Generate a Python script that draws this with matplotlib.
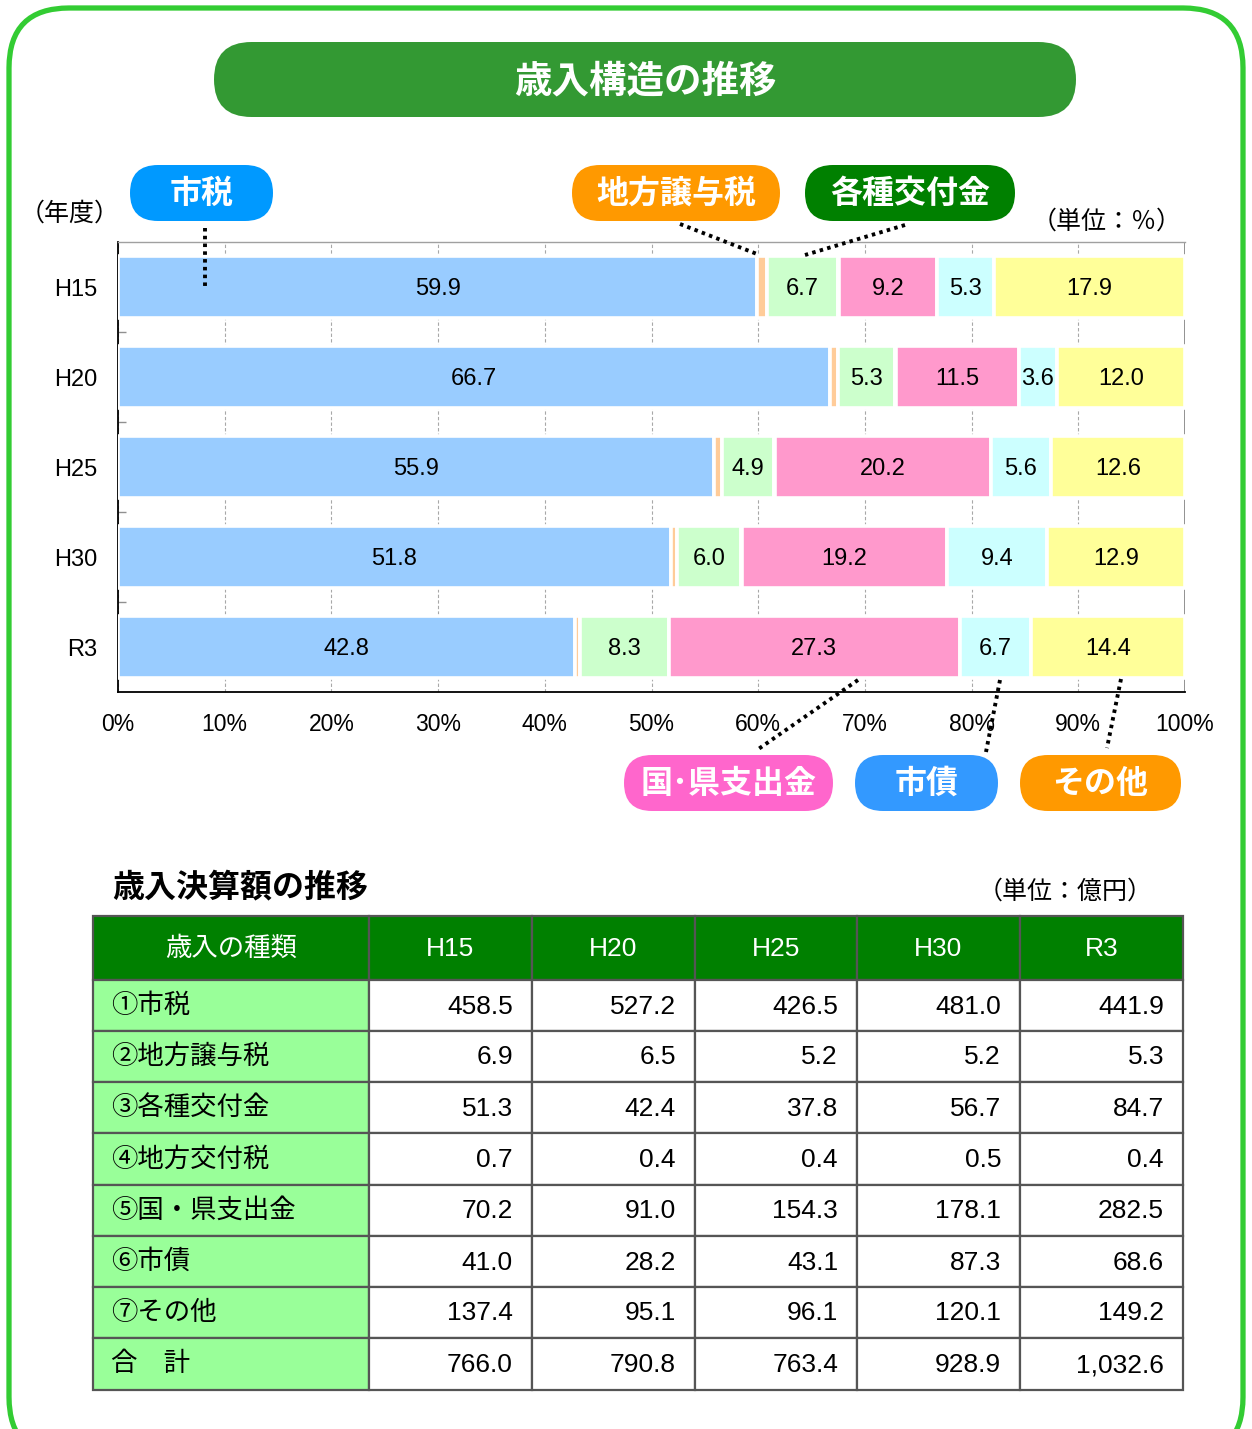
import matplotlib
matplotlib.use('Agg')
import matplotlib.pyplot as plt
from matplotlib.patches import FancyBboxPatch, Rectangle
import numpy as np

# ---------------- data ----------------
years = ['H15', 'H20', 'H25', 'H30', 'R3']
# percentage composition (chart)
shizei = [59.9, 66.7, 55.9, 51.8, 42.8]      # 市税
joyozei = [0.9, 0.8, 0.7, 0.6, 0.5]          # 地方譲与税
kofukin = [6.7, 5.3, 4.9, 6.0, 8.3]          # 各種交付金
kofuzei = [0.1, 0.1, 0.1, 0.1, 0.0]          # 地方交付税
kokuken = [9.2, 11.5, 20.2, 19.2, 27.3]      # 国・県支出金
shisai = [5.3, 3.6, 5.6, 9.4, 6.7]           # 市債
sonota = [17.9, 12.0, 12.6, 12.9, 14.4]      # その他
xticks = [0, 10, 20, 30, 40, 50, 60, 70, 80, 90, 100]

# table (億円)
row_names = ['①市税', '②地方譲与税', '③各種交付金', '④地方交付税',
             '⑤国・県支出金', '⑥市債', '⑦その他', '合　計']
amt_H15 = [458.5, 6.9, 51.3, 0.7, 70.2, 41.0, 137.4, 766.0]
amt_H20 = [527.2, 6.5, 42.4, 0.4, 91.0, 28.2, 95.1, 790.8]
amt_H25 = [426.5, 5.2, 37.8, 0.4, 154.3, 43.1, 96.1, 763.4]
amt_H30 = [481.0, 5.2, 56.7, 0.5, 178.1, 87.3, 120.1, 928.9]
amt_R3 = [441.9, 5.3, 84.7, 0.4, 282.5, 68.6, 149.2, 1032.6]

# ---------------- figure ----------------
W, H = 1252, 1429
JP = ['Noto Sans CJK JP', 'DejaVu Sans']
MIX = ['Liberation Sans', 'Noto Sans CJK JP', 'DejaVu Sans']

fig = plt.figure(figsize=(W / 100, H / 100), dpi=100)
fig.patch.set_facecolor('white')

bg = fig.add_axes([0, 0, 1, 1])
bg.set_xlim(0, W)
bg.set_ylim(H, 0)
bg.axis('off')

# outer frame
frame = FancyBboxPatch((9, 8), W - 18, H + 20,
                       boxstyle="round,pad=0,rounding_size=60",
                       facecolor='white', edgecolor='#33CC33', linewidth=3.8)
bg.add_patch(frame)


def pill(ax, x0, y0, x1, y1, color, text, fs, weight='bold'):
    h = y1 - y0
    p = FancyBboxPatch((x0, y0), x1 - x0, h,
                       boxstyle=f"round,pad=0,rounding_size={h / 2}",
                       facecolor=color, edgecolor='none', zorder=5)
    ax.add_patch(p)
    ax.text((x0 + x1) / 2, (y0 + y1) / 2 + 1, text, color='white', fontsize=fs,
            fontweight=weight, family=JP, ha='center', va='center', zorder=6)


pill(bg, 214, 42, 1076, 117, '#339933', '歳入構造の推移', 27)

# ---------------- chart ----------------
ax = fig.add_axes([118 / W, 1 - 692 / H, (1185 - 118) / W, 450 / H])
ax.set_xlim(0, 100)
ax.set_ylim(4.5, -0.5)
ypos = np.arange(len(years))

series = [
    (shizei, '#99CCFF', True),
    (joyozei, '#FFCC99', False),
    (kofukin, '#CCFFCC', True),
    (kofuzei, '#CCCCFF', False),
    (kokuken, '#FF99CC', True),
    (shisai, '#CCFFFF', True),
    (sonota, '#FFFF99', True),
]
left = np.zeros(len(years))
for vals, col, show in series:
    vals = np.array(vals, dtype=float)
    ax.barh(ypos, vals, left=left, height=0.69, color=col,
            edgecolor='white', linewidth=2.6, zorder=3)
    if show:
        for i, v in enumerate(vals):
            ax.text(left[i] + v / 2, ypos[i] + 0.02, f"{v:.1f}", ha='center',
                    va='center', fontsize=17, family=MIX, color='black', zorder=4)
    left += vals

ax.set_xticks(xticks)
ax.set_xticklabels([f"{t}%" for t in xticks], fontsize=16.5, family=MIX)
ax.tick_params(axis='x', length=0, pad=15)
ax.set_yticks(ypos)
ax.set_yticklabels(years, fontsize=17, family=MIX)
ax.tick_params(axis='y', which='major', length=0, pad=15)
ax.set_yticks([0.5, 1.5, 2.5, 3.5], minor=True)
ax.tick_params(axis='y', which='minor', direction='in', length=6,
               color='#909090', width=1)
ax.xaxis.grid(True, linestyle=(0, (3, 2)), color='#a8a8a8', linewidth=0.8)
ax.set_axisbelow(True)
ax.axvline(100, color='#808080', linewidth=1.2, zorder=1)
ax.spines['right'].set_visible(False)
ax.spines['top'].set_color('#a0a0a0')
ax.spines['top'].set_linewidth(1.0)
ax.spines['left'].set_color('black')
ax.spines['left'].set_linewidth(1.3)
ax.spines['bottom'].set_color('black')
ax.spines['bottom'].set_linewidth(1.3)
ax.set_facecolor('white')

# ---------------- overlay (labels & leaders) ----------------
ov = fig.add_axes([0, 0, 1, 1])
ov.set_xlim(0, W)
ov.set_ylim(H, 0)
ov.axis('off')
ov.patch.set_alpha(0)

pill(ov, 130, 165, 273, 221, '#0099FF', '市税', 23, 'semibold')
pill(ov, 572, 165, 780, 221, '#FF9900', '地方譲与税', 23, 'semibold')
pill(ov, 805, 165, 1015, 221, '#008000', '各種交付金', 23, 'semibold')
pill(ov, 624, 755, 833, 811, '#FF66CC', '国･県支出金', 23, 'semibold')
pill(ov, 855, 755, 998, 811, '#3399FF', '市債', 23, 'semibold')
pill(ov, 1020, 755, 1181, 811, '#FF9900', 'その他', 23, 'semibold')

leaders = [((205, 228), (205, 286)),
           ((680, 224), (757, 254)),
           ((905, 225), (805, 255)),
           ((858, 680), (757, 750)),
           ((1000, 680), (986, 752)),
           ((1121, 679), (1107, 748))]
for (x0, y0), (x1, y1) in leaders:
    ov.plot([x0, x1], [y0, y1], color='black', linewidth=2.8,
            linestyle=(0, (0.9, 1.1)), solid_capstyle='butt', zorder=7)

ov.text(70, 214, '（年度）', fontsize=18, family=JP, ha='center', va='center')
ov.text(1182, 222, '（単位：％）', fontsize=18, family=JP, ha='right', va='center')

# ---------------- table ----------------
ov.text(112, 887, '歳入決算額の推移', fontsize=23, fontweight='bold', family=JP,
        ha='left', va='center')
ov.text(1153, 892, '（単位：億円）', fontsize=18, family=JP, ha='right', va='center')

col_x = [93, 369, 532, 695, 857, 1020, 1183]
row_y = [916, 980, 1031, 1082, 1133, 1185, 1236, 1287, 1338, 1390]
amounts = [amt_H15, amt_H20, amt_H25, amt_H30, amt_R3]
border = '#555555'

# header
for c in range(6):
    ov.add_patch(Rectangle((col_x[c], row_y[0]), col_x[c + 1] - col_x[c],
                           row_y[1] - row_y[0], facecolor='#008000',
                           edgecolor=border, linewidth=1.6, zorder=2))
ov.text((col_x[0] + col_x[1]) / 2, (row_y[0] + row_y[1]) / 2, '歳入の種類',
        fontsize=19, family=JP, color='white', ha='center', va='center', zorder=3)
for c, yr in enumerate(years):
    ov.text((col_x[c + 1] + col_x[c + 2]) / 2, (row_y[0] + row_y[1]) / 2 + 1, yr,
            fontsize=19, family=MIX, color='white', ha='center', va='center', zorder=3)

for r, name in enumerate(row_names):
    y0, y1 = row_y[r + 1], row_y[r + 2]
    ov.add_patch(Rectangle((col_x[0], y0), col_x[1] - col_x[0], y1 - y0,
                           facecolor='#99FF99', edgecolor=border, linewidth=1.6,
                           zorder=2))
    ov.text(col_x[0] + 18, (y0 + y1) / 2, name, fontsize=19, family=MIX,
            ha='left', va='center', zorder=3)
    for c in range(5):
        ov.add_patch(Rectangle((col_x[c + 1], y0), col_x[c + 2] - col_x[c + 1],
                               y1 - y0, facecolor='white', edgecolor=border,
                               linewidth=1.6, zorder=2))
        ov.text(col_x[c + 2] - 19, (y0 + y1) / 2 + 1, f"{amounts[c][r]:,.1f}",
                fontsize=19, family=MIX, ha='right', va='center', zorder=3)

fig.savefig('out.png', dpi=100, facecolor='white')
